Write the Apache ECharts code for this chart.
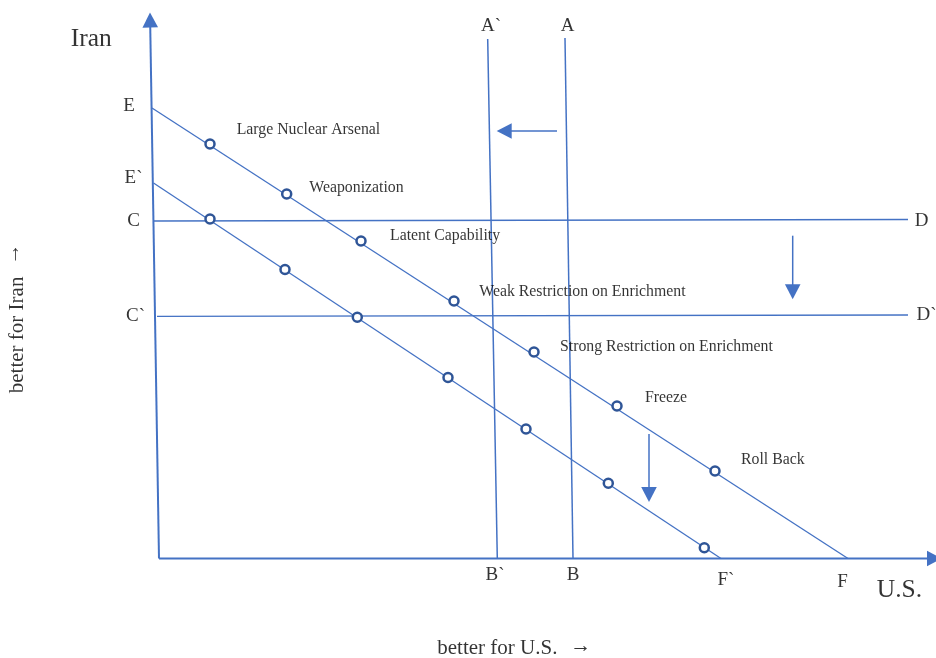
<!DOCTYPE html>
<html><head><meta charset="utf-8">
<script src="https://cdn.jsdelivr.net/npm/echarts@6/dist/echarts.min.js"></script>
<style>html,body{margin:0;padding:0;background:#fff}#c{width:936px;height:658px}</style>
</head><body><div id="c"></div>
<script>
// Diagram data: x = better for U.S., y = better for Iran (origin at the axes' corner)
const lineEF  = [[-7, 450.5], [689, 0]];
const lineEFp = [[-5.5, 375.5], [562, 0]];
const lineCD  = [[-5, 337.5], [749, 339]];
const lineCDp = [[-2, 242.2], [749, 243.5]];
const lineAB  = [[406, 520.5], [414, 0]];
const lineABp = [[328.7, 519.5], [338.3, 0]];

const outcomeNames = ['Large Nuclear Arsenal', 'Weaponization', 'Latent Capability',
  'Weak Restriction on Enrichment', 'Strong Restriction on Enrichment', 'Freeze', 'Roll Back'];
const outcomesEF  = [[51, 414.5], [127.7, 364.5], [202, 317.5], [295, 257.5], [375, 206.5], [458, 152.5], [556, 87.5]];
const outcomesEFp = [[51, 339.5], [126, 289], [198.3, 241.2], [289, 181], [367, 129.5], [449.3, 75.2], [545.3, 10.8]];
const outcomeLabelAnchors = [[77.7, 428.5], [150.3, 371.1], [231, 322.8], [320.3, 266.5], [401, 211.5], [486, 160.5], [582, 98.5]];

const axisArrows  = [[0, 0, -9, 546], [0, 0, 783, 0]];
const shiftArrows = [[398, 427.5, 337.7, 427.5], [633.7, 322.8, 633.7, 259.2], [490, 124.5, 490, 56.5]];

const pointNames = ['E', 'E`', 'C', 'C`', 'A`', 'A', 'D', 'D`', 'B`', 'B', 'F`', 'F'];
const pointLabelAnchors = [[-30, 452.5], [-25.5, 380.5], [-25.3, 337.5], [-23.5, 242.5], [332, 532.5], [408.5, 532.5],
  [762.5, 337], [767.5, 243.5], [336, -16.5], [414, -16.5], [567, -21.5], [683.5, -23.5]];

const axisTitles = ['Iran', 'U.S.'];
const axisTitleAnchors = [[-67.8, 519.6], [740.5, -32]];
const captionUS = ['better for U.S.'];
const captionUSAnchor = [[278.3, -90.4]];
const captionIran = ['better for Iran'];
const captionIranAnchor = [[-141.1, 223.6]];
const captionArrows = ['\u2192'];
const arrowUSAnchor = [[421.8, -88]];
const arrowIranAnchor = [[-145.8, 304.5]];

const LINE = '#4472C4';
const DOT = '#2F5597';
const FONT = "'Liberation Serif', 'Times New Roman', serif";

function arrowSeries(data, lw) {
  return {
    type: 'custom', data: data, clip: false, z: 3, silent: true,
    renderItem(params, api) {
      const s = api.coord([api.value(0), api.value(1)]);
      const e = api.coord([api.value(2), api.value(3)]);
      const dx = e[0] - s[0], dy = e[1] - s[1];
      const L = Math.hypot(dx, dy);
      const ux = dx / L, uy = dy / L;
      const hl = 15, hw = 7.8;
      const bx = e[0] - ux * hl, by = e[1] - uy * hl;
      const px = -uy, py = ux;
      return { type: 'group', children: [
        { type: 'line', shape: { x1: s[0], y1: s[1], x2: bx + ux, y2: by + uy }, style: { stroke: LINE, lineWidth: lw } },
        { type: 'polygon', shape: { points: [[e[0], e[1]], [bx + px * hw, by + py * hw], [bx - px * hw, by - py * hw]] }, style: { fill: LINE } }
      ]};
    }
  };
}
function plainLine(d, lw) {
  return { type: 'line', data: d, symbol: 'none', silent: true, z: 2,
    lineStyle: { color: LINE, width: lw } };
}
function dots(d) {
  return { type: 'scatter', data: d, symbol: 'circle', symbolSize: 9, z: 5, silent: true,
    itemStyle: { color: '#fff', borderColor: DOT, borderWidth: 2.5, opacity: 1 } };
}
function textSeries(names, anchors, size, align, rotate) {
  return { type: 'scatter', symbolSize: 0, z: 10, silent: true,
    data: names.map((n, i) => ({ name: n, value: anchors[i] })),
    label: { show: true, position: [0, 0], align: align, verticalAlign: 'middle', rotate: rotate || 0,
      formatter: p => p.name, color: '#000', fontFamily: FONT, fontSize: size } };
}

const chart = echarts.init(document.getElementById('c'), null, { renderer: 'canvas' });
chart.setOption({
  animation: false,
  backgroundColor: '#fff',
  grid: { left: 0, right: 0, top: 0, bottom: 0 },
  xAxis: { type: 'value', min: -159, max: 777, show: false },
  yAxis: { type: 'value', min: -99.5, max: 558.5, show: false },
  series: [
    plainLine(lineEF, 1.3), plainLine(lineEFp, 1.3),
    plainLine(lineCD, 1.3), plainLine(lineCDp, 1.3),
    plainLine(lineAB, 1.5), plainLine(lineABp, 1.5),
    arrowSeries(axisArrows, 2), arrowSeries(shiftArrows, 1.5),
    dots(outcomesEF), dots(outcomesEFp),
    textSeries(outcomeNames, outcomeLabelAnchors, 15.8, 'left'),
    textSeries(pointNames, pointLabelAnchors, 19, 'center'),
    textSeries(axisTitles, axisTitleAnchors, 25.5, 'center'),
    textSeries(captionUS, captionUSAnchor, 21, 'left'),
    textSeries(captionIran, captionIranAnchor, 21, 'center', 90),
    textSeries(captionArrows, arrowUSAnchor, 21, 'center'),
    textSeries(captionArrows, arrowIranAnchor, 21, 'center', 90)
  ]
});
</script>
</body></html>
